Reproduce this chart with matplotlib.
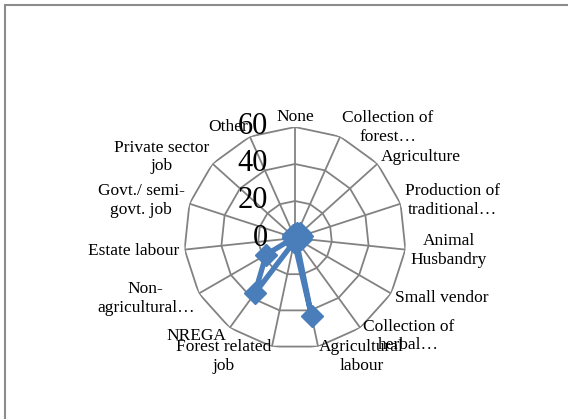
import numpy as np
import matplotlib
matplotlib.use("Agg")
import matplotlib.pyplot as plt
from matplotlib.patches import Rectangle

plt.rcParams['font.family'] = ['Liberation Serif', 'DejaVu Serif']

# data
categories = ["None", "Collection of\nforest…", "Agriculture", "Production of\ntraditional…",
              "Animal\nHusbandry", "Small vendor", "Collection of\nherbal…", "Agricultural\nlabour",
              "Forest related\njob", "NREGA", "Non-\nagricultural…", "Estate labour",
              "Govt./ semi-\ngovt. job", "Private sector\njob", "Other"]
values = [2, 3, 4, 4, 3, 1, 1, 43, 2, 37, 18, 1, 1, 1, 2]
r_ticks = [0, 20, 40, 60]

W, H = 568, 419
fig = plt.figure(figsize=(W / 100, H / 100), dpi=100)

# outer chart frame
fig.patches.append(Rectangle((5 / W, -0.1), 1.2, 1.1 - 5 / H, transform=fig.transFigure,
                             fill=False, edgecolor="#8c8c8c", linewidth=1.5))

cx, cy, rad = 295, 238, 111
ax = fig.add_axes([(cx - rad) / W, (H - cy - rad) / H, 2 * rad / W, 2 * rad / H], projection="polar")
ax.set_theta_offset(np.pi / 2)
ax.set_theta_direction(-1)
ax.set_ylim(0, r_ticks[-1])
ax.grid(False)
ax.spines["polar"].set_visible(False)
ax.set_xticks([])
ax.set_yticks([])
ax.patch.set_alpha(0)

n = len(categories)
theta = np.arange(n) * 2 * np.pi / n
closed = np.append(theta, theta[0])
grid_col = "#828282"

# polygon grid and spokes
for r in r_ticks[1:]:
    ax.plot(closed, [r] * (n + 1), color=grid_col, lw=1.3, zorder=1)
for t in theta:
    ax.plot([t, t], [0, r_ticks[-1]], color=grid_col, lw=1.3, zorder=1)

# series
ax.plot(closed, values + values[:1], color="#4a7ebb", lw=3.8, marker="D", markersize=11,
        markeredgecolor="#4a7ebb", zorder=3, clip_on=False)

# radial tick labels
for r in r_ticks:
    ax.annotate(str(r), xy=(0, r), xytext=(-27, 0), textcoords="offset pixels",
                ha="right", va="center", fontsize=22, zorder=4)

# category labels, centred vertically, pushed outward from the spoke end
for t, lab in zip(theta, categories):
    s = np.sin(t)
    ha = "center" if abs(s) < 0.1 else ("left" if s > 0 else "right")
    ax.annotate(lab, xy=(t, r_ticks[-1]), xytext=(5 * s, 10 * np.cos(t)), textcoords="offset pixels",
                ha=ha, va="center", multialignment="center", fontsize=12.5, zorder=4)

fig.savefig("out.png", dpi=100)
